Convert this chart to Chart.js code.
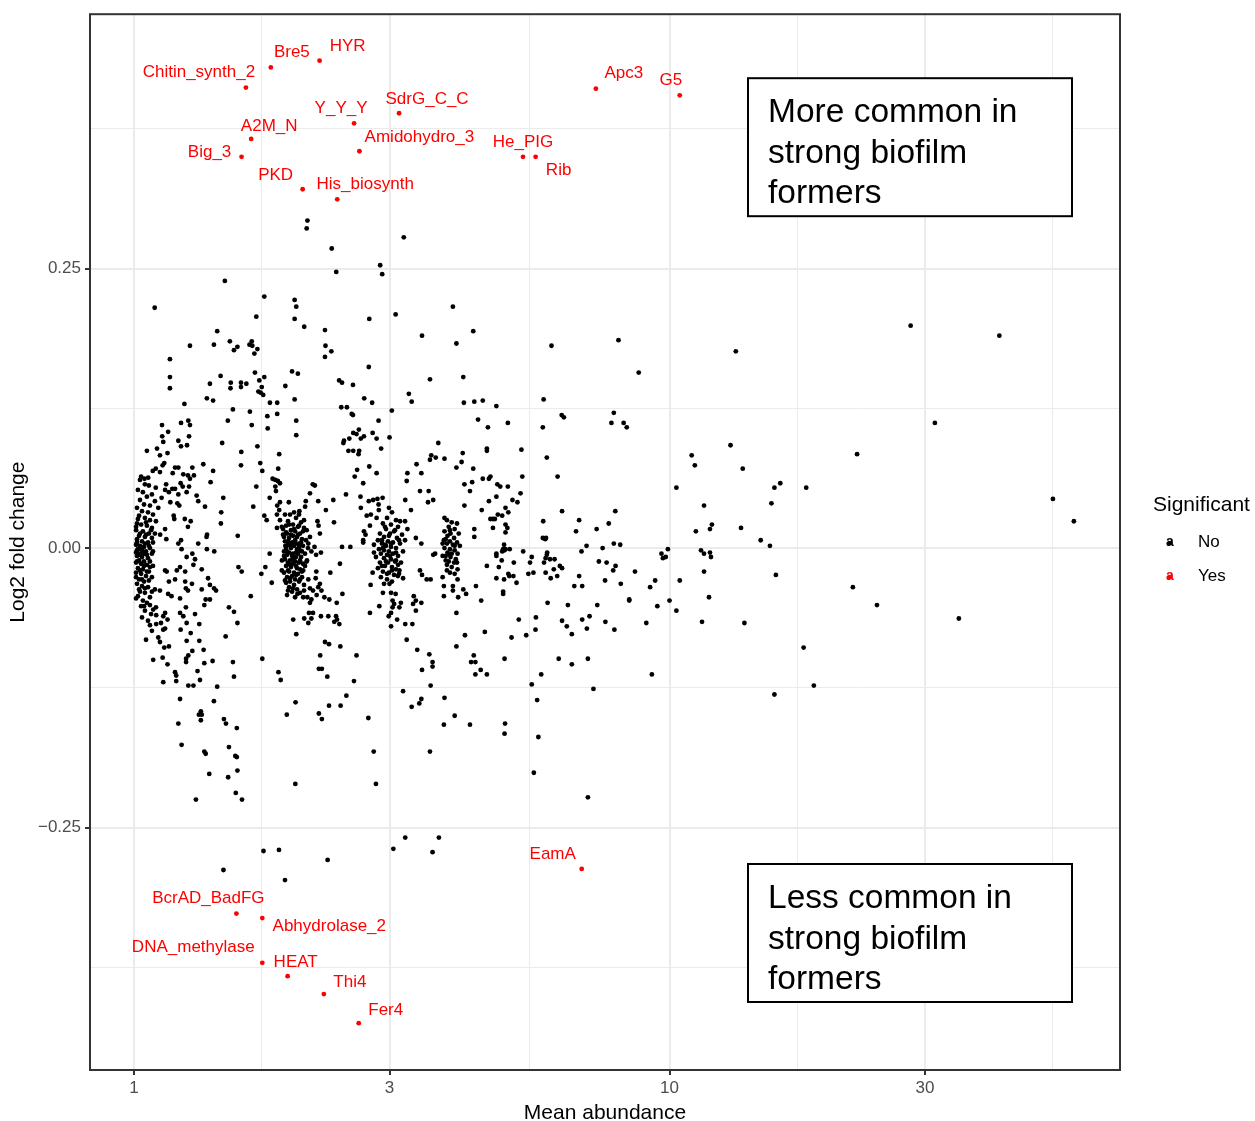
<!DOCTYPE html>
<html>
<head>
<meta charset="utf-8">
<title>Mean abundance vs log2 fold change</title>
<script src="https://cdn.jsdelivr.net/npm/chart.js@4.4.0/dist/chart.umd.min.js"></script>
<style>
  html, body { margin: 0; padding: 0; background: #fff; }
  #wrap { width: 1255px; height: 1121px; }
</style>
</head>
<body>
<div id="wrap"><canvas id="chart" width="1255" height="1121"></canvas></div>
<script>
// significant domains (red, labelled)
const sigNames = ['Chitin_synth_2', 'Bre5', 'HYR', 'A2M_N', 'Big_3', 'Y_Y_Y', 'SdrG_C_C', 'Amidohydro_3',
  'PKD', 'His_biosynth', 'He_PIG', 'Rib', 'Apc3', 'G5',
  'BcrAD_BadFG', 'Abhydrolase_2', 'DNA_methylase', 'HEAT', 'Thi4', 'Fer4', 'EamA'];
const sigMean = [1.618, 1.801, 2.221, 1.655, 1.588, 2.576, 3.126, 2.636, 2.065, 2.396, 5.326, 5.623, 7.286, 10.45,
  1.553, 1.736, 1.736, 1.936, 2.262, 2.628, 6.855];
const sigLfc = [0.412, 0.430, 0.436, 0.366, 0.350, 0.380, 0.389, 0.355, 0.321, 0.312, 0.350, 0.350, 0.411, 0.405,
  -0.327, -0.331, -0.371, -0.383, -0.399, -0.425, -0.287];

// non significant domains, [mean abundance, log2 fold change]
const nsAroundOne = [[1.026,0.061],[1.048,0.057],[1.066,0.056],[1.017,0.052],[1.039,0.050],[1.080,0.048],[1.057,0.046],[1.026,0.043],[1.094,0.042],[1.044,0.039],[1.071,0.038],[1.013,0.036],[1.035,0.033],[1.062,0.032],[1.085,0.030],[1.022,0.029],[1.048,0.027],[1.071,0.025],[1.099,0.024],[1.013,0.022],[1.031,0.021],[1.057,0.020],[1.080,0.018],[1.009,0.016],[1.039,0.015],[1.066,0.013],[1.094,0.013],[1.022,0.011],[1.048,0.010],[1.013,0.008],[1.035,0.006],[1.062,0.005],[1.085,0.005],[1.009,0.003],[1.026,0.002],[1.044,0.001],[1.071,0.000],[1.017,-0.001],[1.035,-0.002],[1.053,-0.003],[1.009,-0.004],[1.026,-0.005],[1.048,-0.005],[1.080,-0.005],[1.013,-0.007],[1.035,-0.008],[1.062,-0.009],[1.022,-0.011],[1.044,-0.012],[1.009,-0.013],[1.031,-0.014],[1.057,-0.015],[1.085,-0.016],[1.017,-0.018],[1.039,-0.019],[1.066,-0.021],[1.009,-0.022],[1.031,-0.023],[1.053,-0.025],[1.080,-0.026],[1.022,-0.028],[1.044,-0.030],[1.013,-0.032],[1.035,-0.034],[1.062,-0.035],[1.094,-0.037],[1.026,-0.039],[1.048,-0.040],[1.017,-0.043],[1.071,-0.044],[1.039,-0.047],[1.057,-0.049],[1.031,-0.052],[1.099,-0.053],[1.048,-0.056],[1.076,-0.059],[1.035,-0.062],[1.062,-0.065],[1.080,-0.074],[1.053,-0.082],
  [1.017,0.026],[1.053,0.023],[1.009,0.019],[1.076,0.016],[1.026,0.013],[1.053,0.012],[1.080,0.009],[1.013,0.005],[1.048,0.004],[1.031,0.001],[1.066,0.002],[1.013,-0.002],[1.085,-0.003],[1.039,-0.004],[1.022,-0.006],[1.057,-0.006],[1.071,-0.012],[1.013,-0.012],[1.044,-0.016],[1.071,-0.017],[1.026,-0.020],[1.057,-0.021],[1.009,-0.026],[1.035,-0.028],[1.066,-0.029],[1.048,-0.036],[1.022,-0.037],[1.080,-0.039],[1.009,-0.045],[1.044,-0.052]];

const nsLeft = [[1.093,0.215],[1.272,0.181],[1.167,0.169],[1.167,0.153],[1.167,0.143],[1.386,0.147],[1.368,0.134],[1.405,0.132],[1.242,0.129],[1.128,0.110],[1.224,0.112],[1.263,0.114],[1.272,0.110],[1.158,0.104],[1.267,0.100],[1.129,0.100],[1.134,0.095],[1.210,0.096],[1.224,0.091],[1.256,0.092],[1.057,0.087],[1.104,0.089],[1.118,0.083],[1.155,0.085],[1.347,0.075],[1.139,0.076],[1.131,0.074],[1.098,0.071],[1.084,0.069],[1.118,0.068],[1.193,0.072],[1.210,0.072],[1.285,0.072],[1.181,0.067],[1.236,0.066],[1.261,0.065],[1.294,0.065],[1.272,0.062],[1.390,0.059],[1.031,0.064],[1.046,0.062],[1.063,0.063],[1.098,0.054],[1.148,0.057],[1.143,0.052],[1.162,0.050],[1.179,0.053],[1.193,0.053],[1.222,0.058],[1.233,0.055],[1.267,0.055],[1.254,0.050],[1.309,0.047],[1.318,0.042],[1.210,0.048],[1.126,0.045],[1.169,0.041],[1.205,0.040],[1.215,0.038],[1.110,0.036],[1.357,0.037],[1.186,0.029],[1.189,0.026],[1.244,0.026],[1.276,0.024],[1.261,0.019],[1.143,0.017],[1.119,0.012],[1.149,0.008],[1.224,0.007],[1.210,0.004],[1.369,0.012],[1.366,0.010],[1.318,0.004],[1.285,-0.005],[1.368,-0.001],[1.227,-0.001],[1.405,0.069],[1.410,0.182],
  [1.254,-0.008],[1.300,-0.010],[1.291,-0.015],[1.219,-0.017],[1.202,-0.020],[1.246,-0.021],[1.338,-0.019],[1.143,-0.020],[1.151,-0.021],[1.375,-0.027],[1.193,-0.028],[1.162,-0.030],[1.246,-0.030],[1.283,-0.032],[1.250,-0.036],[1.261,-0.038],[1.338,-0.037],[1.386,-0.033],[1.411,-0.036],[1.118,-0.038],[1.158,-0.041],[1.175,-0.043],[1.219,-0.045],[1.361,-0.046],[1.386,-0.046],[1.353,-0.051],[1.250,-0.053],[1.219,-0.058],[1.300,-0.059],[1.236,-0.061],[1.143,-0.058],[1.134,-0.061],[1.100,-0.060],[1.086,-0.055],[1.071,-0.051],[1.155,-0.064],[1.123,-0.067],[1.100,-0.068],[1.071,-0.069],[1.254,-0.067],[1.324,-0.068],[1.143,-0.072],[1.134,-0.073],[1.222,-0.073],[1.276,-0.076],[1.110,-0.080],[1.118,-0.084],[1.254,-0.083],[1.324,-0.083],[1.139,-0.089],[1.162,-0.088],[1.285,-0.092],[1.349,-0.091],[1.263,-0.096],[1.251,-0.099],[1.251,-0.102],[1.131,-0.098],[1.086,-0.100],[1.155,-0.104],[1.353,-0.103],[1.402,-0.101],[1.314,-0.110],[1.193,-0.111],[1.199,-0.114],[1.199,-0.119],[1.134,-0.120],[1.328,-0.118],[1.263,-0.123],[1.291,-0.123],[1.219,-0.135],[1.410,-0.137],[1.333,-0.146],[1.322,-0.149],[1.338,-0.149],[1.333,-0.154],[1.210,-0.157],[1.227,-0.176],[1.353,-0.182],[1.361,-0.184],[1.382,-0.202],[1.305,-0.225]];

const nsAroundTwo = [[1.956,0.030],[2.007,0.027],[1.939,0.024],[2.051,0.023],[1.981,0.021],[1.923,0.020],[2.024,0.019],[2.077,0.018],[1.964,0.016],[1.999,0.015],[1.931,0.013],[2.042,0.013],[1.898,0.012],[1.981,0.011],[2.016,0.010],[1.948,0.009],[2.059,0.008],[2.095,0.007],[1.914,0.006],[1.973,0.005],[2.007,0.004],[2.033,0.004],[1.939,0.003],[1.990,0.002],[2.068,0.002],[1.923,0.000],[1.964,0.000],[2.016,-0.001],[2.042,-0.002],[1.906,-0.003],[1.948,-0.004],[1.981,-0.005],[2.024,-0.005],[2.086,-0.005],[1.931,-0.006],[1.973,-0.007],[2.007,-0.008],[2.051,-0.008],[1.914,-0.010],[1.956,-0.011],[1.999,-0.012],[2.033,-0.013],[1.939,-0.013],[1.981,-0.014],[2.068,-0.014],[1.923,-0.016],[1.964,-0.017],[2.016,-0.018],[2.042,-0.019],[1.948,-0.021],[1.990,-0.022],[1.906,-0.022],[2.024,-0.023],[1.973,-0.025],[1.931,-0.026],[2.059,-0.026],[1.999,-0.028],[1.956,-0.030],[2.033,-0.030],[1.923,-0.031],[1.990,-0.033],[2.077,-0.033],[1.948,-0.035],[2.016,-0.037],[1.973,-0.039],[2.042,-0.040],[1.931,-0.042],[1.999,-0.044],[1.898,0.017],[2.113,0.000],[1.889,-0.011],[2.104,-0.011],[1.914,0.030],[2.033,0.030],[2.077,0.025],
  [1.948,0.021],[2.033,0.020],[1.990,0.017],[1.923,0.014],[2.068,0.015],[1.964,0.012],[2.024,0.012],[1.939,0.006],[1.999,0.007],[2.051,0.005],[1.956,0.003],[2.033,0.001],[1.931,-0.003],[2.007,-0.004],[2.059,-0.003],[1.981,-0.010],[1.906,-0.007],[2.042,-0.011],[1.956,-0.015],[2.007,-0.016],[2.086,-0.016],[1.939,-0.020],[2.059,-0.021],[2.007,-0.024],[1.956,-0.027],[2.042,-0.028],[1.914,-0.029],[1.981,-0.036],[2.077,-0.038],[1.939,-0.038]];

const nsMidLeft = [[1.478,0.239],[1.751,0.225],[1.995,0.222],[2.009,0.216],[1.995,0.205],[1.692,0.207],[2.079,0.198],[2.273,0.195],[1.430,0.194],[1.510,0.185],[1.537,0.177],[1.560,0.180],[1.643,0.182],[1.659,0.185],[1.663,0.181],[1.700,0.178],[1.678,0.174],[2.278,0.181],[2.273,0.171],[1.451,0.154],[1.516,0.148],[1.514,0.143],[1.584,0.148],[1.584,0.144],[1.621,0.147],[1.682,0.157],[1.714,0.150],[1.751,0.153],[1.732,0.144],[1.707,0.140],[1.724,0.139],[1.743,0.137],[1.973,0.158],[2.023,0.156],[1.917,0.145],[1.794,0.130],[1.851,0.130],[1.995,0.133],[1.530,0.124],[1.646,0.122],[1.497,0.114],[1.659,0.110],[1.774,0.118],[1.851,0.120],[1.777,0.107],[2.009,0.114],[2.009,0.101],[1.461,0.094],[1.700,0.091],[1.586,0.086],[1.867,0.084],[1.584,0.074],[1.721,0.076],[1.736,0.069],[1.859,0.071],[1.815,0.062],[1.836,0.061],[1.856,0.060],[1.873,0.058],[1.836,0.055],[1.841,0.051],[1.692,0.055],[2.157,0.057],[2.176,0.056],[2.131,0.049],[1.792,0.045],[1.468,0.045],[1.946,0.041],[2.093,0.042],[2.208,0.042],[1.873,0.041],[1.851,0.038],[2.087,0.037],[1.670,0.037],[1.867,0.034],[1.455,0.032],[2.282,0.034],[1.990,0.032],[2.036,0.033],[1.751,0.029],[1.769,0.025],[1.849,0.030],[1.453,0.022],[1.849,0.018],[2.211,0.020],[2.224,0.013],[2.201,0.024],[1.562,0.011],[1.412,-0.003],[1.792,-0.005],[2.144,-0.003],[2.173,0.001],[2.188,-0.006],[2.234,-0.004],[1.917,0.002],[1.906,0.010],[1.888,0.019],[1.873,0.025],[2.101,0.016],[2.131,0.010],[2.116,0.004],
  [2.108,0.293],[2.101,0.286],
  [1.567,-0.017],[1.589,-0.021],[1.759,-0.017],[1.729,-0.023],[1.808,-0.031],[1.423,-0.038],[1.652,-0.043],[1.504,-0.053],[1.537,-0.057],[1.560,-0.067],[1.483,-0.079],[1.530,-0.102],[1.537,-0.115],[1.736,-0.099],[1.861,-0.111],[1.879,-0.118],[1.430,-0.124],[1.472,-0.153],[1.485,-0.157],[1.556,-0.161],[1.504,-0.178],[1.546,-0.186],[1.556,-0.187],[1.560,-0.199],[1.499,-0.205],[1.549,-0.219],[1.591,-0.225],[2.003,-0.138],[1.929,-0.149],[2.214,-0.148],[2.243,-0.153],[2.313,-0.141],[2.001,-0.211],[1.983,-0.064],[2.009,-0.077],[2.079,-0.063],[2.116,-0.067],[2.144,-0.063],[2.159,-0.058],[2.122,-0.058],[2.234,-0.061],[2.306,-0.061],[2.273,-0.084],[2.313,-0.086],[2.227,-0.096],[2.214,-0.108],[2.243,-0.108],[2.296,-0.115],[2.267,-0.044],[2.316,-0.046],[2.131,-0.049],[2.144,-0.046],[2.107,-0.044],[2.070,-0.044],[2.019,-0.041],[2.193,-0.042],[2.208,-0.035],[2.224,-0.032],[2.159,-0.038],[2.131,-0.036],[2.190,-0.021],[2.184,-0.027],[2.116,-0.028],[1.888,-0.020],[2.070,-0.020],[2.101,-0.012]];

const nsAroundThree = [[2.993,0.036],[3.032,0.032],[2.968,0.027],[3.085,0.025],[3.139,0.024],[3.207,0.024],[2.916,0.022],[3.019,0.021],[3.112,0.019],[2.955,0.017],[3.059,0.015],[2.879,0.013],[3.006,0.013],[3.166,0.012],[2.930,0.010],[3.098,0.009],[2.854,0.007],[2.980,0.006],[3.045,0.005],[2.904,0.004],[3.139,0.004],[2.955,0.002],[3.019,0.001],[3.085,0.000],[2.867,-0.001],[2.930,-0.002],[2.993,-0.003],[3.179,-0.003],[3.045,-0.005],[2.891,-0.005],[2.968,-0.006],[3.112,-0.007],[2.830,-0.008],[2.930,-0.009],[3.019,-0.010],[3.072,-0.012],[2.879,-0.013],[2.980,-0.013],[3.152,-0.013],[2.942,-0.016],[3.032,-0.017],[2.854,-0.018],[3.085,-0.019],[2.916,-0.021],[2.993,-0.022],[3.059,-0.024],[2.891,-0.026],[2.968,-0.028],[3.032,-0.030],[2.930,-0.032],[3.125,-0.023],[3.207,0.007],[2.806,-0.004],
  [2.942,0.019],[3.072,0.016],[2.993,0.011],[2.904,0.007],[3.125,0.007],[3.019,0.004],[2.942,0.003],[3.085,-0.004],[2.916,0.000],[3.006,-0.007],[3.085,-0.011],[2.955,-0.012],[2.904,-0.016],[3.032,-0.020],[2.968,-0.023],[3.112,-0.015]];

const nsAroundFour = [[3.84,0.025],[3.92,0.023],[4.01,0.022],[3.87,0.019],[3.97,0.017],[3.80,0.015],[3.90,0.013],[4.04,0.013],[3.85,0.011],[3.96,0.009],[3.79,0.007],[3.89,0.006],[4.01,0.005],[3.84,0.004],[3.94,0.003],[4.06,0.002],[3.80,0.000],[3.89,-0.001],[3.97,-0.002],[3.85,-0.004],[3.92,-0.005],[4.02,-0.005],[3.82,-0.007],[3.90,-0.008],[3.99,-0.010],[3.87,-0.012],[3.96,-0.013],[3.84,-0.015],[3.92,-0.017],[4.02,-0.019],[3.89,-0.022],[3.97,-0.023],[3.82,-0.011],[3.77,0.004],
  [3.89,0.016],[3.82,0.008],[3.97,0.002],[3.89,-0.006],[3.84,-0.020],[4.01,-0.013]];

const nsMid = [[3.19,0.278],[2.340,0.268],[2.386,0.247],[2.882,0.253],[2.907,0.245],[3.94,0.216],[3.08,0.209],[2.750,0.205],[4.30,0.194],[3.45,0.190],[4.00,0.183],[2.336,0.176],[2.744,0.162],[2.416,0.150],[2.446,0.148],[2.564,0.146],[3.57,0.151],[4.12,0.153],[3.26,0.138],[3.30,0.131],[4.13,0.130],[4.32,0.131],[2.691,0.134],[2.784,0.130],[2.438,0.126],[2.498,0.126],[2.550,0.120],[2.564,0.119],[3.03,0.123],[4.39,0.115],[2.862,0.114],[2.630,0.106],[2.567,0.103],[2.603,0.102],[2.688,0.100],[2.652,0.098],[2.790,0.103],[2.838,0.098],[3.00,0.099],[2.524,0.098],[2.467,0.096],[2.460,0.094],[2.894,0.089],[2.514,0.087],[2.567,0.087],[2.633,0.087],[2.626,0.084],[3.70,0.094],[3.59,0.083],[3.57,0.079],[3.66,0.081],[3.80,0.080],[4.11,0.085],[4.09,0.077],[4.00,0.072],[4.30,0.071],[3.37,0.075],[3.24,0.067],[3.44,0.067],[3.23,0.060],[2.750,0.073],[2.610,0.070],[2.583,0.064],[2.838,0.067],[2.679,0.058],[4.14,0.057],[4.28,0.059],[4.24,0.051],[3.42,0.051],[3.55,0.051],[3.54,0.041],[3.62,0.043],[4.14,0.038],[2.488,0.048],[2.356,0.043],[2.363,0.023],[2.648,0.046],[2.652,0.036],[2.744,0.042],[2.796,0.043],[2.848,0.044],[2.912,0.045],[2.862,0.039],[2.865,0.034],[2.720,0.029],[2.769,0.030],[2.758,0.020],[2.838,0.027],[2.688,0.015],[2.706,0.012],[2.679,0.007],[2.679,0.005],[2.806,0.003],[2.446,0.001],[2.535,0.001],[3.21,0.043],[3.29,0.034],[3.24,0.017],[3.36,0.009],[3.44,0.004],[3.62,-0.006],[3.65,-0.005],[3.77,-0.007],[3.80,0.027],
  [2.424,-0.014],[2.326,-0.022],[2.239,-0.038],[2.450,-0.041],[2.391,-0.049],[2.384,-0.061],[2.394,-0.064],[2.366,-0.066],[2.418,-0.068],[2.428,-0.088],[2.603,-0.096],[2.575,-0.119],[2.492,-0.132],[2.431,-0.141],[2.739,-0.152],[2.803,-0.182],[2.830,-0.211],[2.766,-0.033],[2.790,-0.022],[2.916,-0.040],[2.871,-0.052],[2.758,-0.058],[3.00,-0.032],[3.02,-0.040],[3.08,-0.041],[3.04,-0.047],[3.06,-0.050],[3.04,-0.053],[3.13,-0.053],[3.15,-0.049],[3.02,-0.058],[2.99,-0.061],[3.10,-0.064],[3.02,-0.070],[3.21,-0.068],[3.31,-0.068],[3.11,-0.025],[3.18,-0.027],[3.13,-0.020],[3.23,-0.082],[3.38,-0.091],[3.56,-0.095],[3.61,-0.102],[3.61,-0.106],[3.45,-0.109],[3.58,-0.123],[3.18,-0.128],[3.44,-0.135],[3.41,-0.139],[3.30,-0.142],[3.80,-0.134],[3.97,-0.150],[3.79,-0.158],[3.57,-0.182],[3.33,-0.043],[3.36,-0.047],[3.44,-0.049],[3.32,-0.050],[3.36,-0.056],[3.42,-0.020],[3.45,-0.024],[3.52,-0.028],[3.58,-0.028],[3.77,-0.026],[3.79,-0.034],[3.79,-0.043],[3.94,-0.038],[3.94,-0.034],[4.02,-0.028],[4.12,-0.037],[4.17,-0.041],[4.03,-0.044],[4.00,-0.058],[4.15,-0.078],[4.00,-0.088]];

const nsRight = [[6.02,0.181],[8.03,0.186],[8.76,0.157],[4.48,0.132],[4.75,0.127],[5.82,0.133],[4.58,0.108],[4.99,0.112],[5.80,0.108],[6.29,0.119],[6.35,0.117],[7.87,0.121],[7.79,0.112],[8.21,0.112],[8.32,0.108],[4.56,0.089],[4.56,0.087],[5.29,0.088],[5.90,0.081],[4.48,0.062],[4.60,0.062],[4.63,0.064],[5.31,0.064],[6.18,0.064],[4.77,0.057],[4.83,0.055],[4.99,0.055],[5.27,0.049],[4.75,0.046],[5.09,0.043],[5.20,0.041],[4.60,0.042],[4.46,0.034],[4.94,0.036],[5.00,0.032],[4.78,0.030],[4.87,0.029],[4.68,0.026],[4.63,0.026],[4.72,0.026],[4.94,0.021],[4.98,0.018],[4.32,0.017],[4.32,0.010],[4.68,0.018],[4.94,0.014],[4.91,0.003],[4.89,-0.001],[4.92,-0.002],[4.94,-0.001],[5.03,-0.001],[4.87,-0.003],[4.75,-0.005],[4.75,-0.007],[4.86,-0.011],[4.56,-0.016],[4.80,-0.017],[4.75,-0.027],[5.12,-0.013],[5.33,-0.003],[5.53,-0.008],[5.49,-0.013],[5.00,-0.023],[5.02,-0.025],[5.11,-0.025],[4.91,-0.028],[5.18,-0.031],[4.35,-0.034],[4.45,-0.047],[4.89,-0.039],[4.89,-0.041],[5.45,-0.023],[5.57,-0.022],[5.81,0.024],[5.80,0.009],[5.86,0.008],[5.88,0.009],[6.30,0.033],[6.78,0.025],[6.69,0.015],[7.00,0.002],[6.85,-0.003],[7.50,0.000],[7.31,0.017],[7.70,0.022],[7.92,0.033],[7.87,0.004],[8.09,0.003],[5.91,-0.004],[5.87,-0.009],[5.83,-0.013],[5.98,-0.010],[6.10,-0.010],[5.90,-0.006],[6.24,-0.016],[6.30,-0.018],[6.08,-0.019],[6.17,-0.025],[6.00,-0.027],[5.87,-0.022],[7.38,-0.012],[7.63,-0.013],[7.93,-0.016],[7.85,-0.020],[8.62,-0.021],[9.66,-0.005],[9.93,-0.001],[9.84,-0.008],[9.72,-0.009],[6.78,-0.025],[7.58,-0.029],[8.11,-0.032],[6.64,-0.034],[6.87,-0.034],[9.40,-0.029],[9.20,-0.035],[10.45,-0.029],[8.41,-0.046],[8.41,-0.047],[5.92,-0.049],[6.46,-0.051],[7.33,-0.051],[9.49,-0.052],[10.0,-0.047],[10.3,-0.056],[5.23,-0.064],[5.63,-0.062],[5.62,-0.073],[6.30,-0.065],[6.43,-0.070],[6.57,-0.077],[6.87,-0.064],[7.09,-0.061],[7.01,-0.072],[7.59,-0.066],[7.89,-0.073],[9.05,-0.067],[4.52,-0.075],[5.07,-0.080],[5.40,-0.078],[4.31,-0.096],[4.34,-0.102],[4.26,-0.102],[4.34,-0.113],[4.44,-0.109],[4.56,-0.113],[4.92,-0.099],[5.76,-0.113],[6.21,-0.099],[6.57,-0.104],[7.04,-0.099],[9.27,-0.113],[5.53,-0.122],[5.66,-0.136],[7.21,-0.126],[4.24,-0.158],[4.93,-0.157],[4.92,-0.166],[5.69,-0.169],[5.58,-0.201],[7.04,-0.223],[10.3,0.054]];

const nsFarRight = [[13.3,0.176],[28.2,0.199],[41.3,0.190],[31.3,0.112],[13.0,0.092],[22.4,0.084],[11.0,0.083],[11.15,0.074],[13.7,0.071],[16.1,0.058],[15.7,0.054],[18.0,0.054],[15.5,0.040],[11.6,0.038],[12.0,0.021],[11.9,0.017],[11.2,0.015],[13.6,0.018],[14.8,0.007],[15.4,0.002],[11.45,-0.002],[11.6,-0.005],[11.9,-0.004],[11.95,-0.008],[11.6,-0.021],[15.8,-0.024],[52.0,0.044],[56.9,0.024],[22.0,-0.035],[24.4,-0.051],[34.7,-0.063],[11.85,-0.044],[11.5,-0.066],[13.8,-0.067],[17.8,-0.089],[18.6,-0.123],[15.7,-0.131]];

const nsLow = [[1.469,-0.288],[1.745,-0.271],[1.865,-0.270],[1.914,-0.297],[2.299,-0.279],[3.05,-0.269],[3.21,-0.259],[3.61,-0.272],[3.71,-0.259]];

// axis breaks
const xMajor = [1, 3, 10, 30];
const xMinor = [1.7321, 5.4772, 17.321, 51.962];
const yMajor = [-0.25, 0, 0.25];
const yMinor = [-0.375, -0.125, 0.125, 0.375];

const FONT = '"Liberation Sans", Arial, Helvetica, sans-serif';

// label nudges in px from their point (ggrepel-like placement)
const labelNudge = [[-47,-15],[21,-15],[28,-14],[18,-13],[-32,-5],[-13,-15],[28,-14],[60,-14],
  [-27,-14],[28,-15],[0,-15],[23,13],[28,-15],[-9,-15],
  [-28,-15],[67,8],[-69,-15],[8,-14],[26,-12],[27,-13],[-29,-15]];

const isIn = (list, v) => list.some(t => Math.abs(t - v) < 1e-6);

const nonSig = [].concat(nsAroundOne, nsLeft, nsAroundTwo, nsMidLeft, nsAroundThree, nsAroundFour,
  nsMid, nsRight, nsFarRight, nsLow).map(p => ({ x: p[0], y: p[1] }));
const sig = sigMean.map((m, i) => ({ x: m, y: sigLfc[i] }));

const fmtY = v => {
  if (Math.abs(v) < 1e-9) return '0.00';
  return (v < 0 ? '\u2212' : '') + Math.abs(v).toFixed(2);
};

const decor = {
  id: 'decor',
  afterDatasetsDraw(chart) {
    const { ctx, chartArea: a } = chart;
    ctx.save();
    // panel border
    ctx.strokeStyle = '#333333';
    ctx.lineWidth = 2;
    ctx.strokeRect(a.left, a.top, a.right - a.left, a.bottom - a.top);

    // red labels
    ctx.fillStyle = '#FF0000';
    ctx.font = '17px ' + FONT;
    ctx.textAlign = 'center';
    ctx.textBaseline = 'middle';
    chart.getDatasetMeta(0).data.forEach((pt, i) => {
      const n = labelNudge[i];
      ctx.fillText(sigNames[i], pt.x + n[0], pt.y + n[1]);
    });

    // annotation boxes
    const boxes = [
      { top: a.top + 64, lines: ['More common in', 'strong biofilm', 'formers'] },
      { top: a.bottom - 206, lines: ['Less common in', 'strong biofilm', 'formers'] }
    ];
    boxes.forEach(b => {
      const left = a.left + 658;
      ctx.fillStyle = '#fff';
      ctx.fillRect(left, b.top, 324, 138);
      ctx.strokeStyle = '#000';
      ctx.lineWidth = 2;
      ctx.strokeRect(left, b.top, 324, 138);
      ctx.fillStyle = '#000';
      ctx.font = '33.5px ' + FONT;
      ctx.textAlign = 'left';
      ctx.textBaseline = 'alphabetic';
      b.lines.forEach((t, k) => ctx.fillText(t, left + 20, b.top + 44 + k * 40.5));
    });
    ctx.restore();
  },
  afterDraw(chart) {
    // legend
    const { ctx, chartArea: a } = chart;
    const mid = (a.top + a.bottom) / 2;
    ctx.save();
    ctx.textBaseline = 'middle';
    ctx.textAlign = 'left';
    ctx.fillStyle = '#000';
    ctx.font = '21px ' + FONT;
    ctx.fillText('Significant', a.right + 33, mid - 37);
    [['No', '#000000', 0], ['Yes', '#FF0000', 34]].forEach(([t, c, dy]) => {
      const y = mid + dy;
      ctx.fillStyle = c;
      ctx.beginPath();
      ctx.arc(a.right + 50, y + 1, 2.3, 0, Math.PI * 2);
      ctx.fill();
      ctx.font = 'bold 14px ' + FONT;
      ctx.textAlign = 'center';
      ctx.fillText('a', a.right + 50, y);
      ctx.fillStyle = '#000';
      ctx.font = '17px ' + FONT;
      ctx.textAlign = 'left';
      ctx.fillText(t, a.right + 78, y);
    });
    ctx.restore();
  }
};

const gridOpts = major => ({
  color: '#EBEBEB',
  lineWidth: c => isIn(major, c.tick.value) ? 2 : 1,
  drawTicks: true,
  tickLength: 5,
  tickWidth: 2,
  tickColor: c => isIn(major, c.tick.value) ? '#333333' : 'rgba(0,0,0,0)'
});

new Chart(document.getElementById('chart'), {
  type: 'scatter',
  data: {
    datasets: [
      { label: 'Yes', data: sig, order: 0, backgroundColor: '#FF0000', pointRadius: 2.4, pointBorderWidth: 0, pointHoverRadius: 2.4 },
      { label: 'No', data: nonSig, order: 1, backgroundColor: '#000000', pointRadius: 2.4, pointBorderWidth: 0, pointHoverRadius: 2.4 }
    ]
  },
  options: {
    responsive: false,
    animation: false,
    devicePixelRatio: 1,
    layout: { padding: { top: 14, right: 135, left: 0, bottom: 0 } },
    plugins: { legend: { display: false }, tooltip: { enabled: false } },
    scales: {
      x: {
        type: 'logarithmic',
        min: 0.8276,
        max: 69.38,
        afterBuildTicks: s => { s.ticks = xMajor.concat(xMinor).sort((p, q) => p - q).map(v => ({ value: v })); },
        afterFit: s => { s.height = 51; },
        grid: gridOpts(xMajor),
        border: { display: false },
        ticks: {
          autoSkip: false, maxRotation: 0, padding: 3, color: '#4D4D4D',
          font: { family: FONT, size: 17 },
          callback: v => isIn(xMajor, v) ? String(v) : ''
        },
        title: { display: true, text: 'Mean abundance', color: '#000', font: { family: FONT, size: 21, lineHeight: 0.72 }, padding: { top: 0, bottom: 0 } }
      },
      y: {
        type: 'linear',
        min: -0.4669,
        max: 0.4776,
        afterBuildTicks: s => { s.ticks = yMinor.concat(yMajor).sort((p, q) => p - q).map(v => ({ value: v })); },
        afterFit: s => { s.width = 90; },
        grid: gridOpts(yMajor),
        border: { display: false },
        ticks: {
          autoSkip: false, padding: 4, color: '#4D4D4D',
          font: { family: FONT, size: 17 },
          callback: v => isIn(yMajor, v) ? fmtY(v) : ''
        },
        title: { display: true, text: 'Log2 fold change', color: '#000', font: { family: FONT, size: 21, lineHeight: 1 }, padding: { top: 8, bottom: 0 } }
      }
    }
  },
  plugins: [decor]
});
</script>
</body>
</html>
